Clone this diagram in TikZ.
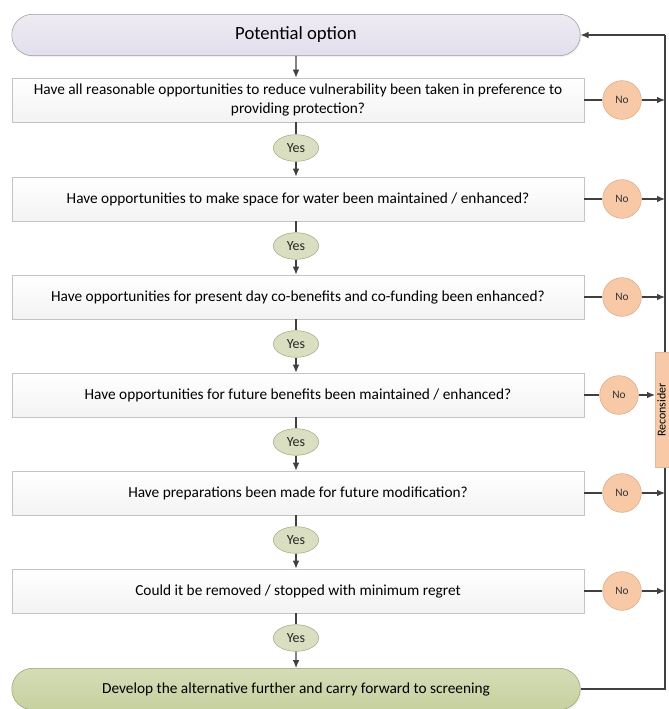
\documentclass[tikz,border=0pt]{standalone}
\usepackage{fontspec}
\setmainfont{Carlito}
\usetikzlibrary{shapes.misc,shapes.geometric,arrows.meta,shadows}

\definecolor{linegray}{HTML}{404040}
\definecolor{boxline}{HTML}{C4C4C4}
\definecolor{boxfill}{HTML}{F3F3F3}
\definecolor{lavender}{HTML}{E3DEEC}
\definecolor{lavline}{HTML}{9E9AA6}
\definecolor{peach}{HTML}{F7C9A6}
\definecolor{peachline}{HTML}{D9A883}
\definecolor{palegreen}{HTML}{D9DFC0}
\definecolor{paleline}{HTML}{A3AB85}
\definecolor{olive}{HTML}{C6D19F}
\definecolor{oliveline}{HTML}{97A274}

\tikzset{
  question/.style={rectangle, draw=boxline, top color=white, bottom color=boxfill,
    minimum width=429pt, minimum height=33pt, align=center, inner sep=1pt,
    font=\fontsize{11.5}{14}\selectfont,
    drop shadow={opacity=0.12, shadow xshift=1pt, shadow yshift=-1pt}},
  terminal/.style={rounded rectangle, minimum width=433pt, minimum height=31pt,
    font=\fontsize{11.5}{14}\selectfont,
    drop shadow={opacity=0.12, shadow xshift=1pt, shadow yshift=-1pt}},
  yesnode/.style={ellipse, draw=paleline, fill=palegreen, minimum width=34pt,
    minimum height=20pt, inner sep=0pt, font=\fontsize{10.5}{12}\selectfont\color{black!85}},
  nonode/.style={circle, draw=peachline, fill=peach, minimum size=29pt,
    inner sep=0pt, font=\fontsize{8.5}{10}\selectfont\color{black!80}},
  flow/.style={draw=linegray, line width=0.9pt},
  flowarrow/.style={flow, -{Latex[length=6pt,width=5pt]}}
}

\begin{document}
\begin{tikzpicture}[x=0.75pt, y=-0.75pt]
  \useasboundingbox (0,0) rectangle (668,709);

  % Start and end
  \node[terminal, draw=lavline, top color=lavender!60, bottom color=lavender,
        font=\fontsize{14}{16}\selectfont] (POT) at (296,35) {Potential option};
  \node[terminal, draw=oliveline, top color=olive!75, bottom color=olive] (DEV) at (296,689)
        {Develop the alternative further and carry forward to screening};

  % Questions
  \node[question] (Q1) at (298,100) {Have all reasonable opportunities to reduce vulnerability been taken in preference to\\ providing protection?};
  \node[question] (Q2) at (298,199) {Have opportunities to make space for water been maintained / enhanced?};
  \node[question] (Q3) at (298,297) {Have opportunities for present day co-benefits and co-funding been enhanced?};
  \node[question] (Q4) at (298,395) {Have opportunities for future benefits been maintained / enhanced?};
  \node[question] (Q5) at (298,493) {Have preparations been made for future modification?};
  \node[question] (Q6) at (298,591) {Could it be removed / stopped with minimum regret};

  % Yes answers
  \node[yesnode] (Y1) at (296,148) {Yes};
  \node[yesnode] (Y2) at (296,246) {Yes};
  \node[yesnode] (Y3) at (296,344) {Yes};
  \node[yesnode] (Y4) at (296,442) {Yes};
  \node[yesnode] (Y5) at (296,540) {Yes};
  \node[yesnode] (Y6) at (296,638) {Yes};

  % No answers
  \node[nonode] (N1) at (622,100) {No};
  \node[nonode] (N2) at (622,199) {No};
  \node[nonode] (N3) at (622,297) {No};
  \node[nonode] (N4) at (619,395) {No};
  \node[nonode] (N5) at (622,493) {No};
  \node[nonode] (N6) at (622,591) {No};

  % Return line
  \coordinate (R1) at (665,100);
  \coordinate (R2) at (665,199);
  \coordinate (R3) at (665,297);
  \coordinate (R4) at (655,395);
  \coordinate (R5) at (665,493);
  \coordinate (R6) at (665,591);
  \coordinate (BOT) at (665,689);
  \coordinate (TOP) at (665,35);

  \draw[flow] (DEV.east) -- (BOT) -- (TOP);
  \draw[flowarrow] (TOP) -- (POT.east);

  % Reconsider bar, cut by the right edge
  \node[rectangle, draw=peachline!80, fill=peach, minimum width=15pt,
        minimum height=86pt, inner sep=0pt] (RECON) at (665,410) {};
  \node[rotate=90, inner sep=0pt, font=\fontsize{9}{10}\selectfont] (RECONTXT) at (661.5,410) {Reconsider};

  % Main flow
  \draw[flowarrow] (POT) -- (POT |- Q1.north);
  \draw[flow] (Q1.south -| Y1) -- (Y1);
  \draw[flowarrow] (Y1) -- (Y1 |- Q2.north);
  \draw[flow] (Q2.south -| Y2) -- (Y2);
  \draw[flowarrow] (Y2) -- (Y2 |- Q3.north);
  \draw[flow] (Q3.south -| Y3) -- (Y3);
  \draw[flowarrow] (Y3) -- (Y3 |- Q4.north);
  \draw[flow] (Q4.south -| Y4) -- (Y4);
  \draw[flowarrow] (Y4) -- (Y4 |- Q5.north);
  \draw[flow] (Q5.south -| Y5) -- (Y5);
  \draw[flowarrow] (Y5) -- (Y5 |- Q6.north);
  \draw[flow] (Q6.south -| Y6) -- (Y6);
  \draw[flowarrow] (Y6) -- (DEV);

  % No branches
  \draw[flow] (Q1) -- (N1);
  \draw[flowarrow] (N1) -- (R1);
  \draw[flow] (Q2) -- (N2);
  \draw[flowarrow] (N2) -- (R2);
  \draw[flow] (Q3) -- (N3);
  \draw[flowarrow] (N3) -- (R3);
  \draw[flow] (Q4) -- (N4);
  \draw[flowarrow] (N4) -- (R4);
  \draw[flow] (Q5) -- (N5);
  \draw[flowarrow] (N5) -- (R5);
  \draw[flow] (Q6) -- (N6);
  \draw[flowarrow] (N6) -- (R6);
\end{tikzpicture}
\end{document}
